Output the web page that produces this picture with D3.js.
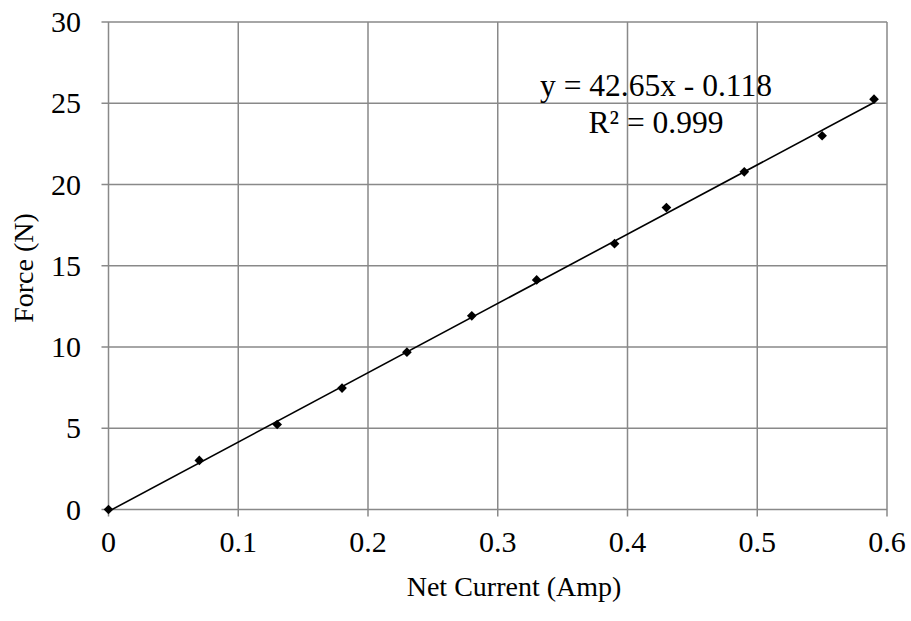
<!DOCTYPE html>
<html><head><meta charset="utf-8"><script src="https://cdn.jsdelivr.net/npm/d3@7"></script></head>
<body style="margin:0">
<svg id="chart" width="911" height="621" font-family="Liberation Serif" style="font-family: 'Liberation Serif', 'Times New Roman', serif; background:#fff"></svg>
<script>
const currents = [0, 0.07, 0.13, 0.18, 0.23, 0.28, 0.33, 0.39, 0.43, 0.49, 0.55, 0.59];
const forces   = [0, 3.02, 5.23, 7.47, 9.68, 11.92, 14.13, 16.36, 18.58, 20.78, 23.0, 25.25];
const xTicks = [0, 0.1, 0.2, 0.3, 0.4, 0.5, 0.6];
const yTicks = [0, 5, 10, 15, 20, 25, 30];
const slope = 42.65, intercept = -0.118;
const eqLabel = "y = 42.65x - 0.118";
const r2Label = "R² = 0.999";
const xTitle = "Net Current (Amp)";
const yTitle = "Force (N)";

const svg = d3.select("#chart");
const FONT = "Liberation Serif";
const pLeft = 108.5, pRight = 887, pTop = 22, pBottom = 509.5;
const x = d3.scaleLinear().domain([0, 0.6]).range([pLeft, pRight]);
const y = d3.scaleLinear().domain([0, 30]).range([pBottom, pTop]);
const gridColor = "#898989";

svg.append("g").selectAll("line").data(yTicks).join("line")
  .attr("x1", pLeft - 7).attr("x2", pRight)
  .attr("y1", d => y(d)).attr("y2", d => y(d))
  .attr("stroke", gridColor).attr("stroke-width", 1.5);
svg.append("g").selectAll("line").data(xTicks).join("line")
  .attr("y1", pTop).attr("y2", pBottom + 7)
  .attr("x1", d => x(d)).attr("x2", d => x(d))
  .attr("stroke", gridColor).attr("stroke-width", 1.5);

const xr = d3.extent(currents);
svg.append("line")
  .attr("x1", x(xr[0])).attr("y1", y(slope * xr[0] + intercept))
  .attr("x2", x(xr[1])).attr("y2", y(slope * xr[1] + intercept))
  .attr("stroke", "#000").attr("stroke-width", 1.6);

const pts = currents.map((c, i) => ({c, f: forces[i]}));
svg.append("g").selectAll("path").data(pts).join("path")
  .attr("transform", d => `translate(${x(d.c)},${y(d.f)})`)
  .attr("d", d3.symbol().type(d3.symbolDiamond2).size(60))
  .attr("fill", "#000");

const labels = [
  ...yTicks.map(d => ({t: String(d), x: 81, y: y(d) + 10, a: "end", s: 30, r: 0})),
  ...xTicks.map(d => ({t: String(d), x: x(d), y: 552, a: "middle", s: 30, r: 0})),
  {t: xTitle, x: 514, y: 596, a: "middle", s: 28, r: 0},
  {t: yTitle, x: 33, y: 268, a: "middle", s: 28, r: -90},
  {t: eqLabel, x: 656, y: 96, a: "middle", s: 31.5, r: 0},
  {t: r2Label, x: 656, y: 133, a: "middle", s: 31.5, r: 0}
];
svg.selectAll("text.lbl").data(labels).join("text")
  .attr("class", "lbl")
  .attr("transform", d => `translate(${d.x},${d.y}) rotate(${d.r})`)
  .attr("text-anchor", d => d.a)
  .attr("font-size", d => d.s)
  .style("font-family", FONT)
  .text(d => d.t);
</script>
</body></html>
